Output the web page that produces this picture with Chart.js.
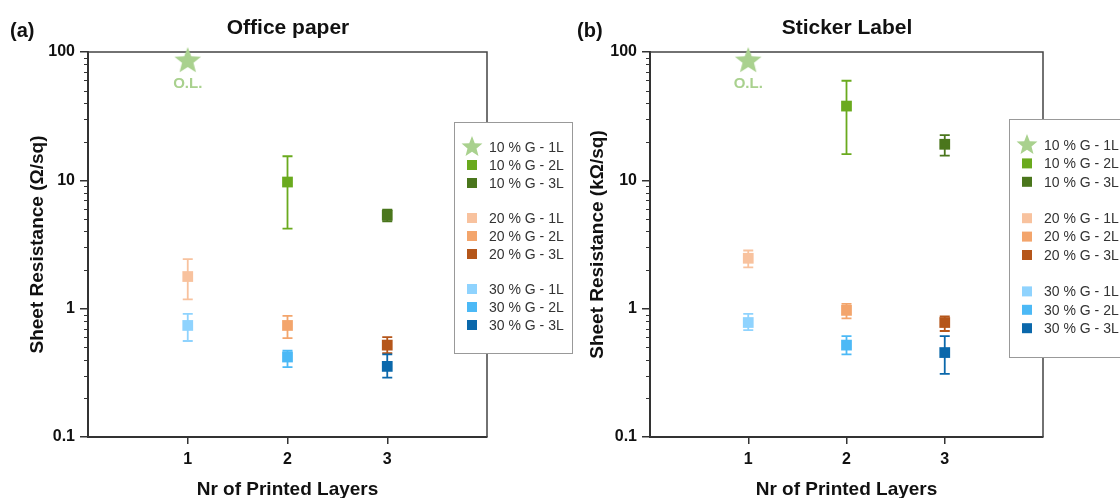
<!DOCTYPE html>
<html>
<head>
<meta charset="utf-8">
<script src="https://cdn.jsdelivr.net/npm/chart.js@4/dist/chart.umd.min.js"></script>
<style>
html,body{margin:0;padding:0;background:#fff;}
#page{position:relative;width:1120px;height:498px;overflow:hidden;background:#fff;}
#boxA{position:absolute;left:0;top:0;}
#boxB{position:absolute;left:574px;top:0;}
</style>
</head>
<body>
<div id="page">
  <canvas id="boxA" width="576" height="498"></canvas>
  <canvas id="boxB" width="546" height="498"></canvas>
</div>
<script>
// ---------- data ----------
const xTicks = [1, 2, 3];
const yTicks = [0.1, 1, 10, 100];

const seriesLabels = [
  "10 % G - 1L", "10 % G - 2L", "10 % G - 3L",
  "20 % G - 1L", "20 % G - 2L", "20 % G - 3L",
  "30 % G - 1L", "30 % G - 2L", "30 % G - 3L"
];
const seriesLayer = [1, 2, 3, 1, 2, 3, 1, 2, 3];
const seriesColors = [
  "#a9d18e", "#6aaa1e", "#4a761c",
  "#f8c29e", "#f3a56c", "#b5561a",
  "#8fd3fe", "#4cb9f6", "#0b68ab"
];

// office paper (Ohm/sq)
const officeValues = [86.6, 9.7, 5.35, 1.78, 0.74, 0.52, 0.74, 0.42, 0.355];
const officeLow    = [null, 4.2, 4.8, 1.18, 0.59, 0.45, 0.56, 0.35, 0.29];
const officeHigh   = [null, 15.4, 5.9, 2.43, 0.88, 0.60, 0.91, 0.47, 0.44];

// sticker label (kOhm/sq)
const stickerValues = [86.6, 37.9, 19.1, 2.47, 0.97, 0.78, 0.78, 0.52, 0.455];
const stickerLow    = [null, 16.0, 15.6, 2.10, 0.84, 0.67, 0.68, 0.44, 0.31];
const stickerHigh   = [null, 59.7, 22.5, 2.84, 1.09, 0.87, 0.91, 0.61, 0.61];

const FONT = '"Liberation Sans", Arial, sans-serif';

// filled star marker
function starPath(ctx, cx, cy, r) {
  ctx.beginPath();
  for (let i = 0; i < 10; i++) {
    const rr = i % 2 ? r * 0.43 : r;
    const a = -Math.PI / 2 + i * Math.PI / 5;
    ctx.lineTo(cx + rr * Math.cos(a), cy + rr * Math.sin(a));
  }
  ctx.closePath();
}
const starImg = document.createElement("canvas");
starImg.width = 30; starImg.height = 30;
(function () {
  const c = starImg.getContext("2d");
  c.fillStyle = seriesColors[0];
  starPath(c, 15, 16, 14);
  c.fill();
})();

/* plugin: frame, minor ticks, error bars, titles, legend */
const panelPlugin = {
  id: "panel",
  beforeDatasetsDraw(chart, args, opts) {
    const { ctx, chartArea: a, scales } = chart;
    ctx.save();
    ctx.strokeStyle = "#444";
    ctx.lineWidth = 1.5;
    ctx.beginPath();
    ctx.moveTo(a.left, a.top);
    ctx.lineTo(a.right, a.top);
    ctx.lineTo(a.right, a.bottom);
    ctx.stroke();

    // minor log ticks
    ctx.strokeStyle = "#333";
    ctx.lineWidth = 1;
    ctx.beginPath();
    [0.1, 1, 10].forEach(d => {
      for (let k = 2; k < 10; k++) {
        const py = Math.round(scales.y.getPixelForValue(d * k)) + 0.5;
        ctx.moveTo(a.left - 4, py);
        ctx.lineTo(a.left, py);
      }
    });
    ctx.stroke();

    // error bars
    chart.data.datasets.forEach(ds => {
      if (ds.errLow == null) return;
      const px = scales.x.getPixelForValue(ds.data[0].x);
      const lo = scales.y.getPixelForValue(ds.errLow);
      const hi = scales.y.getPixelForValue(ds.errHigh);
      ctx.strokeStyle = ds.backgroundColor;
      ctx.lineWidth = 1.8;
      ctx.beginPath();
      ctx.moveTo(px, lo); ctx.lineTo(px, hi);
      ctx.moveTo(px - 5, lo); ctx.lineTo(px + 5, lo);
      ctx.moveTo(px - 5, hi); ctx.lineTo(px + 5, hi);
      ctx.stroke();
    });
    ctx.restore();
  },
  afterDraw(chart, args, opts) {
    const { ctx } = chart;
    ctx.save();

    // title + panel letter
    ctx.fillStyle = "#111";
    ctx.textBaseline = "alphabetic";
    ctx.textAlign = "center";
    ctx.font = "bold 21px " + FONT;
    ctx.fillText(opts.title, opts.titleX, 34);
    ctx.textAlign = "left";
    ctx.font = "bold 20px " + FONT;
    ctx.fillText(opts.letter, opts.letterX, 37);

    // O.L. label under the star
    const star = chart.getDatasetMeta(0).data[0];
    ctx.fillStyle = seriesColors[0];
    ctx.textAlign = "center";
    ctx.textBaseline = "middle";
    ctx.font = "bold 15px " + FONT;
    ctx.fillText("O.L.", star.x, star.y + 24);

    // legend
    const L = opts.legend;
    ctx.fillStyle = "#fff";
    ctx.fillRect(L.x, L.y, L.w, L.h);
    ctx.strokeStyle = "#999";
    ctx.lineWidth = 1;
    ctx.strokeRect(L.x + 0.5, L.y + 0.5, L.w, L.h);
    ctx.font = "14px " + FONT;
    ctx.textAlign = "left";
    chart.data.datasets.forEach((ds, i) => {
      const g = Math.floor(i / 3);
      const cy = L.y + L.first + i * L.step + g * L.gap;
      const mx = L.x + 18;
      ctx.fillStyle = ds.backgroundColor;
      if (i === 0) {
        starPath(ctx, mx, cy, 11);
        ctx.fill();
      } else {
        ctx.fillRect(mx - 5, cy - 5, 10, 10);
      }
      ctx.fillStyle = "#333";
      ctx.fillText(ds.label, L.x + 35, cy + 1);
    });
    ctx.restore();
  }
};

function makePanel(id, values, low, high, yTitle, cfg) {
  const datasets = seriesLabels.map((lab, i) => ({
    label: lab,
    data: [{ x: seriesLayer[i], y: values[i] }],
    errLow: low[i],
    errHigh: high[i],
    backgroundColor: seriesColors[i],
    borderColor: seriesColors[i],
    borderWidth: 0,
    pointStyle: i === 0 ? starImg : "rect",
    pointRadius: 7.6,
    clip: false
  }));

  new Chart(document.getElementById(id), {
    type: "scatter",
    data: { datasets },
    options: {
      responsive: false,
      devicePixelRatio: 1,
      animation: false,
      events: [],
      layout: { padding: { top: 52, right: cfg.padRight, left: 0, bottom: 0 } },
      plugins: {
        legend: { display: false },
        tooltip: { enabled: false },
        panel: cfg
      },
      scales: {
        x: {
          type: "linear",
          min: 0,
          max: 4,
          afterBuildTicks: s => { s.ticks = xTicks.map(v => ({ value: v })); },
          afterFit: s => { s.height = 61; },
          ticks: { color: "#111", padding: 6, font: { family: FONT, size: 16, weight: "bold" } },
          grid: { drawOnChartArea: false, drawTicks: true, tickLength: 7, color: "#333", lineWidth: 1.5 },
          border: { display: true, color: "#333", width: 2 },
          title: {
            display: true,
            text: "Nr of Printed Layers",
            color: "#111",
            padding: { top: 0, bottom: -3 },
            font: { family: FONT, size: 19, weight: "bold" }
          }
        },
        y: {
          type: "logarithmic",
          min: 0.1,
          max: 100,
          afterBuildTicks: s => { s.ticks = yTicks.map(v => ({ value: v })); },
          afterFit: s => { s.width = cfg.yWidth; },
          ticks: {
            color: "#111",
            padding: 5,
            font: { family: FONT, size: 16, weight: "bold" },
            callback: v => String(v)
          },
          grid: { drawOnChartArea: false, drawTicks: true, tickLength: 8, color: "#333", lineWidth: 1.5 },
          border: { display: true, color: "#333", width: 2 },
          title: {
            display: true,
            text: yTitle,
            color: "#111",
            padding: { top: cfg.yTitlePad, bottom: 0 },
            font: { family: FONT, size: 19, weight: "bold" }
          }
        }
      }
    },
    plugins: [panelPlugin]
  });
}

makePanel("boxA", officeValues, officeLow, officeHigh, "Sheet Resistance (\u03A9/sq)", {
  title: "Office paper", titleX: 288, letter: "(a)", letterX: 10,
  padRight: 89, yWidth: 88, yTitlePad: 26,
  legend: { x: 454, y: 122, w: 118, h: 231, first: 25, step: 18, gap: 17 }
});

makePanel("boxB", stickerValues, stickerLow, stickerHigh, "Sheet Resistance (k\u03A9/sq)", {
  title: "Sticker Label", titleX: 273, letter: "(b)", letterX: 3,
  padRight: 77, yWidth: 76, yTitlePad: 12,
  legend: { x: 435, y: 119, w: 130, h: 238, first: 26, step: 18.4, gap: 18 }
});
</script>
</body>
</html>
